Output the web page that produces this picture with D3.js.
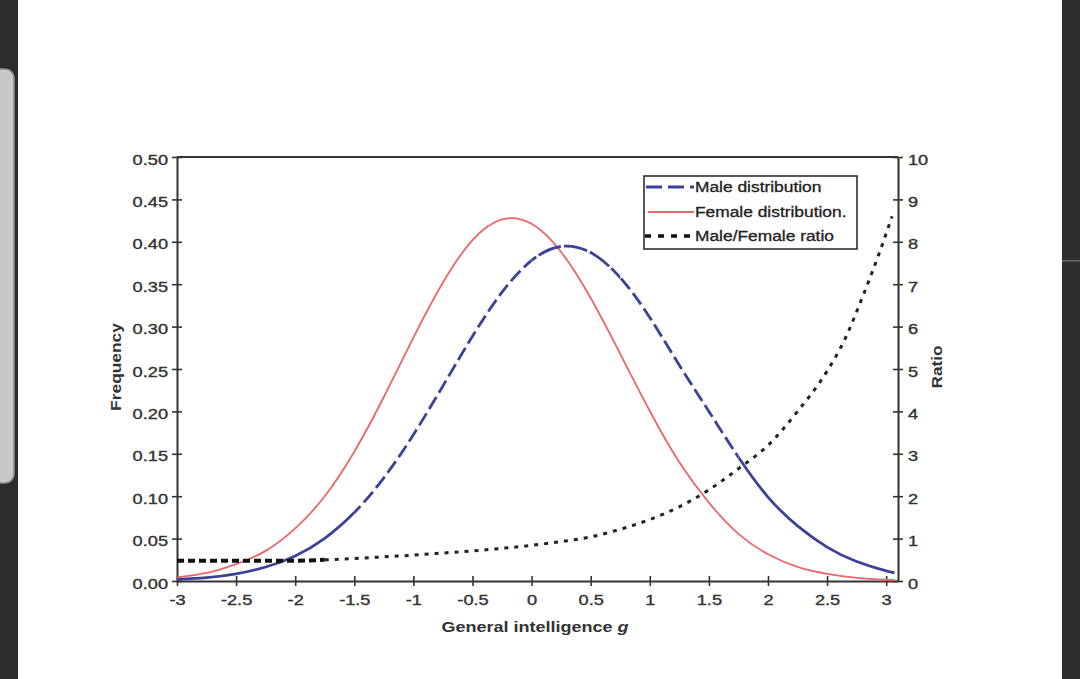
<!DOCTYPE html>
<html>
<head>
<meta charset="utf-8">
<script src="https://cdn.jsdelivr.net/npm/d3@7"></script>
<style>
  html, body { margin: 0; padding: 0; background: #fff; }
  svg { display: block; font-family: "Liberation Sans", Arial, sans-serif; }
</style>
</head>
<body>
<svg id="chart" width="1080" height="679"></svg>
<script>
// ---- data ----
const gValues = [-3, -2.75, -2.5, -2.25, -2, -1.75, -1.5, -1.25, -1, -0.75, -0.5, -0.25, 0, 0.25, 0.5, 0.75, 1, 1.25, 1.5, 1.75, 2, 2.25, 2.5, 2.75, 3, 3.07];
const maleFreq = [0.002, 0.004, 0.0085, 0.0165, 0.0296, 0.0504, 0.0807, 0.1217, 0.1725, 0.2301, 0.2887, 0.3406, 0.378, 0.3945, 0.3873, 0.3577, 0.3107, 0.2545, 0.200, 0.146, 0.099, 0.065, 0.040, 0.023, 0.012, 0.010];
const femaleFreq = [0.0042, 0.0095, 0.020, 0.0355, 0.0620, 0.1000, 0.1525, 0.217, 0.287, 0.352, 0.402, 0.4264, 0.4212, 0.388, 0.3337, 0.2678, 0.2005, 0.140, 0.0925, 0.0555, 0.0315, 0.0167, 0.0085, 0.0038, 0.0016, 0.0012];
const ratioG = [-3, -2.5, -2, -1.75, -1.5, -1.25, -1, -0.75, -0.5, -0.25, 0, 0.25, 0.5, 0.75, 1, 1.25, 1.5, 1.75, 2, 2.25, 2.5, 2.65, 2.8, 2.95, 3.05];
const ratioV = [0.48, 0.48, 0.48, 0.5, 0.53, 0.57, 0.61, 0.66, 0.71, 0.77, 0.84, 0.93, 1.04, 1.22, 1.45, 1.75, 2.15, 2.65, 3.2, 4.0, 4.95, 5.7, 6.7, 7.8, 8.6];
const xTicks = [-3, -2.5, -2, -1.5, -1, -0.5, 0, 0.5, 1, 1.5, 2, 2.5, 3];
const xTickLabels = ["-3", "-2.5", "-2", "-1.5", "-1", "-0.5", "0", "0.5", "1", "1.5", "2", "2.5", "3"];
const yTicks = [0, 0.05, 0.1, 0.15, 0.2, 0.25, 0.3, 0.35, 0.4, 0.45, 0.5];
const yTickLabels = ["0.00", "0.05", "0.10", "0.15", "0.20", "0.25", "0.30", "0.35", "0.40", "0.45", "0.50"];
const ratioTicks = [0, 1, 2, 3, 4, 5, 6, 7, 8, 9, 10];
const legendLabels = ["Male distribution", "Female distribution.", "Male/Female ratio"];

(function () {
// ---- layout ----
const svg = d3.select("#chart");
const W = 1080, H = 679;
const pL = 177, pR = 898, pT = 157, pB = 581;
const TXT = "#333";
const AX = "#333";
const BLUE = "#3a4199";
const RED = "#e9676c";

// page frame
svg.append("rect").attr("x", 0).attr("y", 0).attr("width", W).attr("height", H).attr("fill", "#fff");
svg.append("rect").attr("x", 0).attr("y", 0).attr("width", 18).attr("height", H).attr("fill", "#2c2c2c");
svg.append("rect").attr("x", 1062).attr("y", 0).attr("width", 18).attr("height", H).attr("fill", "#2c2c2c");
svg.append("rect").attr("x", 1062).attr("y", 260).attr("width", 18).attr("height", 1.5).attr("fill", "#6a6a6a");
svg.append("rect").attr("x", -12).attr("y", 69).attr("width", 26).attr("height", 414).attr("rx", 9)
  .attr("fill", "#c8c8c8").attr("stroke", "#8d8d8d").attr("stroke-width", 1.5);

const x = d3.scaleLinear().domain([-3, 3.1]).range([pL, pR]);
const y = d3.scaleLinear().domain([0, 0.5]).range([pB, pT]);
const yR = d3.scaleLinear().domain([0, 10]).range([pB, pT]);

function stretch(sel, k) {
  sel.each(function () {
    const L = this.getComputedTextLength();
    d3.select(this).attr("textLength", L * k).attr("lengthAdjust", "spacingAndGlyphs");
  });
}

// top frame line
svg.append("line").attr("x1", pL).attr("x2", pR).attr("y1", pT).attr("y2", pT)
  .attr("stroke", AX).attr("stroke-width", 2);

// axes
const gx = svg.append("g").attr("transform", `translate(0,${pB})`)
  .call(d3.axisBottom(x).tickValues(xTicks).tickFormat((d, i) => xTickLabels[i]).tickSizeOuter(0));
const gy = svg.append("g").attr("transform", `translate(${pL},0)`)
  .call(d3.axisLeft(y).tickValues(yTicks).tickFormat((d, i) => yTickLabels[i]).tickSizeOuter(0));
const gr = svg.append("g").attr("transform", `translate(${pR},0)`)
  .call(d3.axisRight(yR).tickValues(ratioTicks).tickFormat(d3.format("d")).tickSizeOuter(0));

[gx, gy, gr].forEach(g => {
  g.select(".domain").attr("stroke", AX).attr("stroke-width", 2);
  g.selectAll(".tick line").attr("stroke", AX).attr("stroke-width", 1.6);
  g.selectAll(".tick text").attr("fill", TXT).attr("font-size", 14)
    .attr("stroke", TXT).attr("stroke-width", 0.35)
    .attr("font-family", "'Liberation Sans', Arial, sans-serif");
});
gx.selectAll(".tick line").attr("y1", -5).attr("y2", 5);
gx.selectAll(".tick text").attr("y", 24).attr("dy", 0);
gy.selectAll(".tick line").attr("x1", -5).attr("x2", 5);
gy.selectAll(".tick text").attr("x", -9).attr("dy", "0.5em");
gr.selectAll(".tick line").attr("x1", -5).attr("x2", 5);
gr.selectAll(".tick text").attr("x", 10).attr("dy", "0.5em");
stretch(gx.selectAll(".tick text"), 1.3);
stretch(gy.selectAll(".tick text"), 1.3);
stretch(gr.selectAll(".tick text"), 1.3);

// axis titles
const xt = svg.append("text").attr("x", 535).attr("y", 632).attr("text-anchor", "middle")
  .attr("font-size", 15).attr("font-weight", "bold").attr("fill", TXT);
xt.append("tspan").text("General intelligence ");
xt.append("tspan").attr("font-style", "italic").text("g");
stretch(xt, 1.2);

const yt = svg.append("text").attr("transform", "translate(121,367) rotate(-90)").attr("text-anchor", "middle")
  .attr("font-size", 14).attr("font-weight", "bold").attr("fill", TXT).text("Frequency");
stretch(yt, 1.24);
const rt = svg.append("text").attr("transform", "translate(942,367) rotate(-90)").attr("text-anchor", "middle")
  .attr("font-size", 14).attr("font-weight", "bold").attr("fill", TXT).text("Ratio");
stretch(rt, 1.23);

// curves
const maleData = gValues.map((g, i) => ({ g, v: maleFreq[i] }));
const femaleData = gValues.map((g, i) => ({ g, v: femaleFreq[i] }));
const ratioData = ratioG.map((g, i) => ({ g, v: ratioV[i] }));

const lineF = d3.line().x(d => x(d.g)).y(d => y(d.v)).curve(d3.curveNatural);
const lineR = d3.line().x(d => x(d.g)).y(d => yR(d.v)).curve(d3.curveMonotoneX);

// female
svg.append("path").datum(femaleData).attr("d", lineF).attr("fill", "none")
  .attr("stroke", RED).attr("stroke-width", 1.8);

// male: solid tails, dashed flanks, near-solid top
const maleSegs = [
  { a: -3.05, b: -1.5, dash: null },
  { a: -1.5, b: 0, dash: "14 5" },
  { a: 0, b: 0.75, dash: "24 3" },
  { a: 0.75, b: 1.75, dash: "14 5" },
  { a: 1.75, b: 3.1, dash: null }
];
maleSegs.forEach((s, k) => {
  const id = "maleclip" + k;
  svg.append("clipPath").attr("id", id).append("rect")
    .attr("x", x(s.a)).attr("y", 0).attr("width", x(s.b) - x(s.a)).attr("height", H);
  const p = svg.append("path").datum(maleData).attr("d", lineF).attr("fill", "none")
    .attr("stroke", BLUE).attr("stroke-width", 2.8).attr("clip-path", `url(#${id})`);
  if (s.dash) p.attr("stroke-dasharray", s.dash);
});

// ratio: thick dashes on the left, dotted afterwards
svg.append("path").datum(ratioData.filter(d => d.g <= -1.75)).attr("d", lineR).attr("fill", "none")
  .attr("stroke", "#111").attr("stroke-width", 4).attr("stroke-dasharray", "7 4");
svg.append("path").datum(ratioData.filter(d => d.g >= -1.75)).attr("d", lineR).attr("fill", "none")
  .attr("stroke", "#222").attr("stroke-width", 3).attr("stroke-dasharray", "4 6");

// legend
const lg = svg.append("g");
lg.append("rect").attr("x", 644).attr("y", 176).attr("width", 213).attr("height", 73)
  .attr("fill", "#fff").attr("stroke", "#222").attr("stroke-width", 1.5);
const rowsY = [187, 212, 236];
lg.append("line").attr("x1", 646).attr("x2", 694).attr("y1", rowsY[0]).attr("y2", rowsY[0])
  .attr("stroke", BLUE).attr("stroke-width", 3).attr("stroke-dasharray", "16 6");
lg.append("line").attr("x1", 648).attr("x2", 694).attr("y1", rowsY[1]).attr("y2", rowsY[1])
  .attr("stroke", RED).attr("stroke-width", 1.8);
lg.append("line").attr("x1", 645).attr("x2", 692).attr("y1", rowsY[2]).attr("y2", rowsY[2])
  .attr("stroke", "#111").attr("stroke-width", 3.5).attr("stroke-dasharray", "6 7");
const lt = lg.selectAll("text.lab").data(legendLabels).enter().append("text").attr("class", "lab")
  .attr("x", 695).attr("y", (d, i) => rowsY[i] + 5).attr("font-size", 14).attr("fill", "#222")
  .attr("stroke", "#222").attr("stroke-width", 0.3).text(d => d);
stretch(lt, 1.24);
})();
</script>
</body>
</html>
